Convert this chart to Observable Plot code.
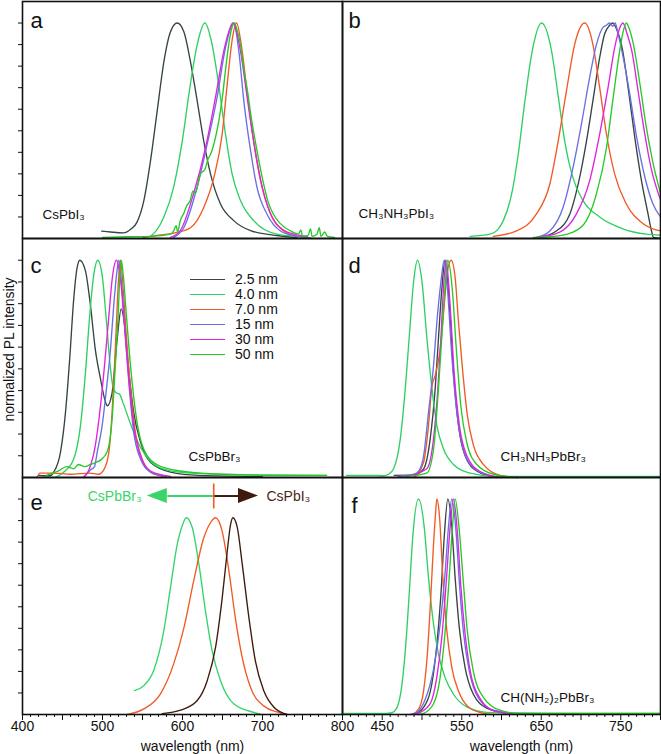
<!DOCTYPE html>
<html><head><meta charset="utf-8">
<script src="https://cdn.jsdelivr.net/npm/d3@7"></script>
<script src="https://cdn.jsdelivr.net/npm/@observablehq/plot@0.6"></script>
<style>
body{margin:0;background:#fff;}
#fig{position:relative;width:661px;height:754px;overflow:hidden;background:#fff;font-family:"Liberation Sans",Arial,sans-serif;}
#fig svg{position:absolute;}
</style></head><body><div id="fig"></div>
<script>
// ---------- legend / series names ----------
const sizes = ["2.5 nm", "4.0 nm", "7.0 nm", "15 nm", "30 nm", "50 nm"];
const sizeColors = ["#374444", "#2fd062", "#f15a24", "#6a70e2", "#dd25dd", "#27c927"];
const eColors = ["#34d46a", "#f15a24", "#3d1a0c"];

// ---------- panel a : CsPbI3 ----------  [wavelength nm, normalized PL]
const a_25 = [[499,0.034],[510,0.03],[526,0.026],[536,0.045],[543,0.075],[551.7,0.176],[560,0.36],[568.3,0.59],[576.7,0.82],[585,0.96],[593.4,1.0],[601.7,0.96],[610,0.82],[618.3,0.64],[626.7,0.45],[635,0.30],[647.5,0.16],[664,0.083],[685,0.037],[718,0.014],[743,0.005]];
const a_40 = [[560,0.01],[568,0.04],[576.7,0.10],[589,0.24],[599.6,0.45],[610,0.72],[618.4,0.90],[628,1.0],[637,0.90],[645,0.72],[653.7,0.485],[662,0.30],[672.5,0.176],[689,0.083],[718,0.02],[743,0.01]];
const a_70 = [[551,0.005],[570,0.015],[589,0.025],[610,0.05],[626.7,0.145],[639,0.28],[649.6,0.485],[656,0.72],[662,0.92],[667.5,1.0],[674.6,0.87],[681,0.67],[689,0.45],[697.5,0.27],[710,0.115],[726.6,0.035],[743,0.01],[760,0.003]];
const a_15 = [[589,0.005],[601.6,0.05],[618.4,0.24],[631,0.44],[643,0.65],[653.7,0.885],[664,1.0],[670.4,0.87],[676.6,0.64],[685,0.41],[693,0.24],[706,0.11],[722.5,0.035],[743,0.01],[760,0.003]];
const a_30 = [[585,0.005],[597,0.035],[614,0.21],[628.7,0.42],[641,0.65],[651.6,0.87],[657.9,0.96],[663,1.0],[672.5,0.87],[681,0.65],[689,0.45],[699.6,0.24],[712,0.10],[731,0.03],[756,0.01]];
const a_50 = [[500,0.005],[530,0.008],[560,0.01],[585,0.02],[589,0.035],[592,0.06],[594,0.03],[597,0.08],[602,0.12],[605,0.15],[609.6,0.176],[613,0.22],[616,0.21],[622.5,0.30],[628,0.32],[632,0.37],[635,0.39],[640,0.45],[645.4,0.546],[650,0.66],[653.7,0.78],[657,0.88],[660,0.95],[665,1.0],[668,0.97],[672.5,0.90],[676,0.80],[681,0.69],[686,0.56],[691,0.45],[696,0.35],[701.6,0.25],[707,0.17],[714,0.11],[722,0.07],[735,0.035],[745,0.02],[748,0.04],[750,0.01],[757,0.015],[760,0.045],[762,0.01],[768,0.02],[771,0.05],[773,0.01],[778,0.03],[781,0.01],[790,0.005]];

// ---------- panel b : CH3NH3PbI3 ----------
const b_25 = [[647,0.005],[669,0.035],[686,0.114],[696.3,0.25],[706.8,0.45],[715,0.64],[723.5,0.84],[729.8,0.95],[735,0.985],[740,1.0],[745,0.97],[752,0.88],[760,0.68],[768,0.46],[776,0.27],[784,0.12],[789,0.03],[791,0.005],[800,0.0]];
const b_40 = [[560.5,0.01],[585.6,0.02],[595,0.04],[602.3,0.083],[612.8,0.207],[621,0.39],[629.5,0.64],[637.9,0.855],[650.4,1.0],[663,0.87],[671,0.67],[679.6,0.45],[690,0.28],[702.6,0.176],[723.5,0.10],[752.7,0.045],[782,0.02],[800,0.015]];
const b_70 = [[589.7,0.01],[619,0.035],[644,0.114],[660.8,0.253],[671.2,0.45],[681.7,0.685],[692,0.90],[704.7,1.0],[715,0.90],[723.5,0.70],[732,0.485],[742.3,0.30],[757,0.16],[777.8,0.07],[800,0.035]];
const b_15 = [[644,0.005],[660.8,0.035],[677.5,0.145],[690,0.33],[700.5,0.53],[711,0.75],[719.4,0.90],[727.6,0.98],[732,0.99],[736,1.0],[740,0.985],[743,1.0],[746,0.96],[752,0.86],[760,0.70],[770,0.47],[780,0.29],[790,0.165],[800,0.10]];
const b_30 = [[644,0.005],[673.4,0.03],[694.3,0.114],[711,0.27],[723.5,0.485],[734,0.70],[742.3,0.885],[748,0.97],[752.7,1.0],[758,0.95],[764,0.87],[772,0.68],[780,0.49],[788,0.33],[800,0.18]];
const b_50 = [[640,0.005],[660.8,0.008],[690,0.03],[706.8,0.083],[719.4,0.207],[732,0.42],[740,0.64],[748.6,0.87],[753,0.96],[757,1.0],[760,0.98],[766,0.90],[774,0.72],[782,0.52],[790,0.36],[800,0.21]];

// ---------- panel c : CsPbBr3 ----------
const c_25 = [[420,0.01],[435,0.008],[439,0.025],[447.5,0.117],[453.75,0.30],[459,0.546],[464,0.82],[468,0.96],[471.7,1.0],[478.75,0.95],[485,0.79],[491,0.59],[497.5,0.454],[503.75,0.347],[506,0.33],[512,0.39],[518.4,0.64],[523.4,0.776],[526.6,0.73],[533,0.485],[539,0.30],[547.5,0.163],[560,0.07],[585,0.025],[620,0.01],[700,0.005]];
const c_40 = [[441,0.0],[451.7,0.025],[464,0.085],[472.5,0.24],[478.75,0.485],[484,0.745],[489,0.93],[494,1.0],[499.6,0.93],[505,0.715],[510,0.50],[513,0.42],[517,0.39],[521,0.385],[526,0.34],[535,0.247],[547.5,0.138],[560,0.075],[580,0.035],[610,0.02],[700,0.012],[780,0.01]];
const c_70 = [[418,0.0],[422,0.02],[440,0.02],[460,0.015],[484,0.02],[495,0.015],[501.6,0.035],[508,0.117],[512,0.30],[515,0.515],[517.5,0.715],[520,0.91],[522.5,1.0],[525.8,0.87],[530,0.64],[535,0.41],[541,0.21],[549.6,0.085],[560,0.025],[576,0.005]];
const c_15 = [[476,0.0],[485,0.035],[490,0.05],[493.4,0.117],[499.6,0.24],[505,0.41],[510,0.59],[514,0.79],[517.5,0.93],[520.4,1.0],[524.6,0.86],[528.75,0.64],[534,0.39],[539,0.21],[547.5,0.085],[560,0.025],[580,0.005]];
const c_30 = [[476.7,0.0],[483,0.035],[491,0.147],[497.5,0.33],[502.5,0.515],[508,0.745],[512,0.91],[517.5,1.0],[522.5,0.91],[527.5,0.70],[533,0.454],[539,0.24],[547.5,0.10],[560,0.03],[585,0.005]];
const c_50 = [[430,0.01],[445,0.03],[455,0.05],[464,0.04],[470,0.06],[478,0.05],[485,0.06],[492,0.07],[497.5,0.08],[506,0.12],[512,0.27],[516,0.515],[519.6,0.75],[521.7,0.93],[523.4,1.0],[526,0.93],[528.75,0.80],[535,0.515],[542.5,0.27],[551.6,0.13],[568,0.06],[597,0.03],[650,0.015],[720,0.01],[780,0.01]];

// ---------- panel d : CH3NH3PbBr3 ----------
const d_25 = [[465,0.01],[490,0.012],[502,0.04],[510.3,0.178],[516.6,0.41],[520.7,0.64],[525,0.87],[529,1.0],[534.5,0.79],[539.6,0.485],[545.9,0.24],[554.2,0.10],[568.8,0.03],[594,0.0]];
const d_40 = [[405,0.01],[440,0.01],[451.8,0.008],[458,0.015],[464.3,0.04],[472.7,0.178],[479,0.41],[484.4,0.67],[489.4,0.90],[494.4,1.0],[500,0.90],[506.2,0.64],[512.5,0.41],[518.7,0.24],[527,0.132],[539.6,0.06],[560.5,0.02],[593,0.005],[700,0.005],[800,0.005]];
const d_70 = [[490,0.0],[502,0.07],[508.2,0.24],[512.5,0.42],[516.6,0.47],[522.9,0.59],[527.9,0.79],[532,0.95],[536.7,1.0],[541.7,0.92],[545.9,0.715],[551.3,0.485],[557,0.287],[564.6,0.15],[577.2,0.06],[598,0.01],[620,0.0]];
const d_15 = [[470,0.005],[490,0.015],[496,0.03],[502,0.098],[508.2,0.30],[514.5,0.515],[518.7,0.715],[523.8,0.90],[527.9,1.0],[532,0.87],[537.5,0.56],[543.8,0.30],[552,0.13],[564.6,0.045],[585,0.01]];
const d_30 = [[480,0.005],[506,0.04],[514.5,0.178],[520,0.41],[523.8,0.64],[527,0.87],[530.4,1.0],[535.4,0.79],[540.4,0.485],[547,0.24],[556.4,0.10],[572,0.03],[600,0.0]];
const d_50 = [[480,0.005],[506,0.02],[514.5,0.13],[520.7,0.41],[524.8,0.64],[528.8,0.87],[532.5,1.0],[538,0.87],[543,0.60],[548.8,0.33],[556.4,0.16],[568.9,0.06],[590,0.015],[620,0.0]];

// ---------- panel e : mixed halide ----------
const e_br = [[540,0.111],[551.7,0.134],[564,0.204],[576.7,0.39],[585,0.59],[593.4,0.79],[600,0.88],[604.6,0.913],[612,0.87],[620.4,0.70],[628.75,0.48],[637,0.296],[647.5,0.157],[664,0.05],[689,0.01],[697,0.003]];
const e_mix = [[530.9,0.0],[551.7,0.026],[572.5,0.096],[589,0.235],[601.6,0.40],[614,0.62],[626.6,0.82],[635,0.89],[641.25,0.913],[649.6,0.85],[658,0.667],[666,0.45],[674.6,0.265],[685,0.126],[701.6,0.04],[722.5,0.007],[729,0.0]];
const e_i = [[574.6,0.004],[597.5,0.02],[618.4,0.065],[630.9,0.157],[641.25,0.31],[649.6,0.54],[656,0.76],[660,0.88],[662.9,0.913],[668.4,0.87],[674.6,0.70],[683,0.45],[691,0.25],[701.6,0.11],[714,0.035],[731,0.0]];
const eArrowLabels = ["CsPbBr₃", "CsPbI₃"];
const eDivider = 639;          // nm
const eArrowTips = [556, 695]; // nm
const eArrowLevel = 1.014;

// ---------- panel f : CH(NH2)2PbBr3 ----------
const f_25 = [[490,0.0],[502,0.033],[512.5,0.145],[518.7,0.325],[523.8,0.557],[527.9,0.82],[532.5,1.0],[537.5,0.87],[541.7,0.634],[547,0.40],[554.2,0.218],[564.6,0.094],[581.4,0.03],[609,0.005]];
const f_40 = [[400,0.005],[455,0.005],[462,0.008],[468.6,0.033],[474.8,0.14],[480.3,0.357],[484.4,0.59],[488.6,0.835],[495.7,1.0],[502.8,0.87],[508.2,0.634],[514.5,0.42],[520.7,0.28],[529.2,0.17],[539.6,0.094],[556.4,0.035],[581.4,0.01],[650,0.005],[800,0.005]];
const f_70 = [[487.4,0.0],[495.7,0.025],[502,0.11],[507,0.295],[511.2,0.557],[514.5,0.79],[517,0.93],[518.7,1.0],[522,0.92],[526.2,0.634],[531.3,0.387],[537.5,0.218],[545.8,0.11],[558.4,0.035],[575,0.008],[590,0.0]];
const f_15 = [[485,0.0],[493.6,0.01],[504,0.07],[514.5,0.21],[522.9,0.42],[529.2,0.665],[533.3,0.87],[537.5,1.0],[543,0.84],[547,0.61],[552,0.387],[559.6,0.20],[570.9,0.077],[590,0.02],[620,0.005],[800,0.003]];
const f_30 = [[490,0.0],[497.8,0.01],[510.3,0.05],[518.7,0.175],[525,0.36],[530.4,0.61],[535.4,0.87],[539.6,1.0],[544.6,0.84],[548.8,0.60],[554.2,0.375],[561.3,0.19],[573,0.075],[592,0.015],[620,0.003]];
const f_50 = [[495,0.0],[502,0.005],[514.5,0.05],[522.9,0.175],[529.2,0.39],[534.2,0.634],[538.3,0.87],[541.7,1.0],[547,0.85],[552.1,0.61],[557,0.387],[564.6,0.20],[577.2,0.08],[598,0.02],[622,0.005],[800,0.005]];

// ---------- axes ----------
const xMajorTicks = [400, 450, 500, 550, 600, 650, 700, 750, 800];
const xLabelsLeft = [400, 500, 600, 700, 800];
const xLabelsRight = [450, 550, 650, 750];
const yTicks = [0.1, 0.2, 0.3, 0.4, 0.5, 0.6, 0.7, 0.8, 0.9, 1.0];
const xMinorTicks = d3.range(410, 800, 10).filter(v => v % 50 !== 0);
const xTitle = "wavelength (nm)";
const yTitle = "normalized PL intensity";

// ---------- layout ----------
const colLeft = [22, 342], colWidth = [320, 318];
const rowTop = [1, 238, 477], rowHeight = [237, 239, 237];
const FONT = '"Liberation Sans", Arial, Helvetica, sans-serif';

const panels = [
  {letter: "a", col: 0, row: 0, series: [a_25, a_40, a_70, a_15, a_30, a_50], colors: sizeColors, ldx: 8, ldy: 26, compound: "CsPbI₃", cdx: 20, cdy: -20},
  {letter: "b", col: 1, row: 0, series: [b_25, b_40, b_70, b_15, b_30, b_50], colors: sizeColors, ldx: 6, ldy: 26, compound: "CH₃NH₃PbI₃", cdx: 16, cdy: -21},
  {letter: "c", col: 0, row: 1, series: [c_25, c_40, c_70, c_15, c_30, c_50], colors: sizeColors, ldx: 8, ldy: 34, compound: "CsPbBr₃", cdx: 166, cdy: -17},
  {letter: "d", col: 1, row: 1, series: [d_25, d_40, d_70, d_15, d_30, d_50], colors: sizeColors, ldx: 6, ldy: 34, compound: "CH₃NH₃PbBr₃", cdx: 158, cdy: -17},
  {letter: "e", col: 0, row: 2, series: [e_br, e_mix, e_i], colors: eColors, ldx: 8, ldy: 32},
  {letter: "f", col: 1, row: 2, series: [f_25, f_40, f_70, f_15, f_30, f_50], colors: sizeColors, ldx: 9, ldy: 35, compound: "CH(NH₂)₂PbBr₃", cdx: 158, cdy: -13}
];

const fig = document.getElementById("fig");

panels.forEach(p => {
  const {col, row} = p;
  const mL = col === 0 ? 26 : 3, mR = 3, mT = 3, mB = row === 2 ? 46 : 3;
  const W = mL + colWidth[col] + mR, H = mT + rowHeight[row] + mB;
  const yPerPx = 1.1 / rowHeight[row];
  const labels = col === 0 ? xLabelsLeft : xLabelsRight;
  const marks = [];
  p.series.forEach((s, i) => marks.push(Plot.line(s, {x: d => d[0], y: d => d[1], stroke: p.colors[i], strokeWidth: 1.35, curve: "monotone-x"})));
  if (row === 2) {
    marks.push(Plot.ruleX(xMinorTicks, {x: d => d, y1: 0, y2: -3 * yPerPx, stroke: "#111", strokeWidth: 1}));
    marks.push(Plot.text([xTitle], {frameAnchor: "bottom", dx: col === 0 ? 10 : 20, dy: 36, lineAnchor: "bottom", textAnchor: "middle", fontSize: 14, fill: "#111"}));
  }
  if (p.letter === "e") {
    const shaft = [{a: eDivider, b: eArrowTips[0] + 25}, {a: eDivider, b: eArrowTips[1] - 25}];
    marks.push(Plot.link([shaft[0]], {x1: "a", x2: "b", y1: eArrowLevel, y2: eArrowLevel, stroke: "#3ad46a", strokeWidth: 2}));
    marks.push(Plot.link([shaft[1]], {x1: "a", x2: "b", y1: eArrowLevel, y2: eArrowLevel, stroke: "#3d1a0c", strokeWidth: 2}));
    marks.push(Plot.ruleX([eDivider], {y1: 0.954, y2: 1.07, stroke: "#f15a24", strokeWidth: 1.6}));
    marks.push(Plot.text([eArrowLabels[0]], {x: eArrowTips[0] - 7, y: eArrowLevel, textAnchor: "end", fontSize: 14, fill: "#3ad46a"}));
    marks.push(Plot.text([eArrowLabels[1]], {x: eArrowTips[1] + 10, y: eArrowLevel, textAnchor: "start", fontSize: 14, fill: "#4a2616"}));
  }
  if (p.letter === "c") {
    marks.push(Plot.text([yTitle], {frameAnchor: "left", rotate: -90, dx: -8.5, dy: -8.5, lineAnchor: "bottom", textAnchor: "middle", fontSize: 14, fill: "#111"}));
  }
  marks.push(Plot.frame({stroke: "#111", strokeWidth: 1.6}));
  marks.push(Plot.text([p.letter], {frameAnchor: "top-left", dx: p.ldx, dy: p.ldy, lineAnchor: "bottom", textAnchor: "start", fontSize: 22, fill: "#111"}));
  if (p.compound) marks.push(Plot.text([p.compound], {frameAnchor: "bottom-left", dx: p.cdx, dy: p.cdy, lineAnchor: "bottom", textAnchor: "start", fontSize: 13.5, fill: "#111"}));

  const plot = Plot.plot({
    width: W, height: H,
    marginLeft: mL, marginRight: mR, marginTop: mT, marginBottom: mB,
    x: {domain: [400, 800], axis: row === 2 ? "bottom" : null, ticks: xMajorTicks, tickSize: 6, tickPadding: 1,
        tickFormat: d => labels.includes(d) ? String(d) : "", label: null},
    y: {domain: [0, 1.1], axis: col === 0 ? "left" : null, ticks: yTicks, tickSize: 4, tickFormat: () => "", label: null},
    style: {background: "transparent", overflow: "visible", fontFamily: FONT, fontSize: "14px", color: "#111"},
    marks
  });

  if (p.letter === "e") {
    const sx = plot.scale("x"), sy = plot.scale("y");
    const X = d3.scaleLinear(sx.domain, sx.range), Y = d3.scaleLinear(sy.domain, sy.range);
    const heads = [{tip: eArrowTips[0], dir: 1, c: "#3ad46a"}, {tip: eArrowTips[1], dir: -1, c: "#3d1a0c"}];
    heads.forEach(h => {
      const tx = X(h.tip), bx = tx + h.dir * 20, y = Y(eArrowLevel);
      d3.select(plot).append("polygon").attr("points", `${tx},${y} ${bx},${y - 7.5} ${bx},${y + 7.5}`).attr("fill", h.c);
    });
  }

  plot.style.position = "absolute";
  plot.style.left = (colLeft[col] - mL) + "px";
  plot.style.top = (rowTop[row] - mT) + "px";
  fig.appendChild(plot);
});

// legend (panel c)
const leg = d3.select(fig).append("div")
  .style("position", "absolute").style("left", "190px").style("top", "271.5px")
  .style("font-family", FONT).style("font-size", "14px").style("color", "#111");
sizes.forEach((s, i) => {
  const r = leg.append("div").style("display", "flex").style("align-items", "center").style("height", "15px");
  r.append("span").style("display", "inline-block").style("width", "35px").style("height", "0").style("border-top", `1.5px solid ${sizeColors[i]}`);
  r.append("span").style("margin-left", "10px").style("line-height", "15px").text(s);
});
</script></body></html>
